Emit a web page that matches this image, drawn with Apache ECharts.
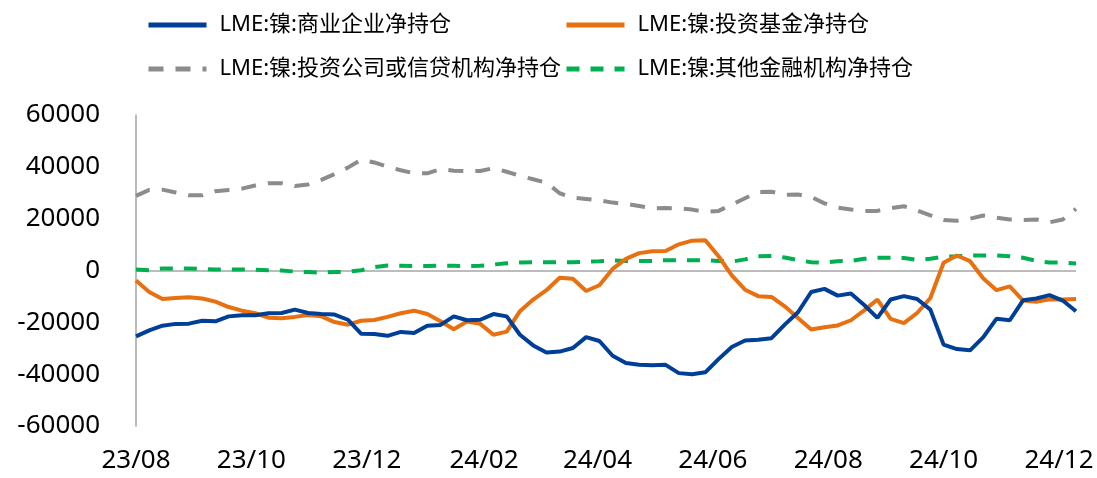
<!DOCTYPE html>
<html>
<head>
<meta charset="utf-8">
<script src="https://cdn.jsdelivr.net/npm/echarts@6/dist/echarts.min.js"></script>
<style>
html,body{margin:0;padding:0;background:#fff;}
#chart{width:1097px;height:478px;}
</style>
</head>
<body>
<div id="chart"></div>
<script>
// weekly observations: first date and count
const startDate = '2023-08-01';
const weekCount = 72;
const tickLabels = ['23/08','23/10','23/12','24/02','24/04','24/06','24/08','24/10','24/12'];
const seriesNames = ['LME:镍:商业企业净持仓','LME:镍:投资基金净持仓','LME:镍:投资公司或信贷机构净持仓','LME:镍:其他金融机构净持仓'];

const commercial = [-25400,-23100,-21300,-20600,-20500,-19400,-19600,-17700,-17300,-17300,-16500,-16400,-15100,-16400,-16800,-17000,-19000,-24400,-24500,-25200,-23700,-24100,-21300,-21000,-17700,
  -19200,-19000,-16800,-17700,-24800,-28900,-31600,-31300,-29900,-25700,-27200,-32900,-35700,-36400,-36600,-36400,-39600,-40000,-39300,-34200,-29500,-27000,-26700,-26100,
  -20900,-16100,-8300,-7100,-9700,-8900,-13300,-18300,-11200,-9900,-11000,-15100,-28600,-30300,-30800,-25700,-18600,-19200,-11500,-10800,-9500,-11600,-15700];
const investFunds = [-3900,-8300,-11000,-10600,-10300,-10800,-12000,-14100,-15500,-16500,-18200,-18400,-17900,-17200,-17700,-19900,-20900,-19400,-19100,-17900,-16500,-15500,-16800,-19600,-22700,
  -19700,-20600,-24800,-23600,-15700,-11200,-7600,-2800,-3200,-7900,-5700,600,4500,6700,7400,7500,10100,11500,11700,5500,-1900,-7400,-9900,-10200,
  -13800,-18300,-22800,-21900,-21200,-19200,-15400,-11200,-18700,-20300,-16400,-10600,3000,5800,3600,-3100,-7600,-6100,-11600,-12100,-11100,-11200,-11000];
const investFirms = [28800,31100,31200,30100,29000,29000,30600,31100,31600,32800,33700,33700,32600,33200,35000,37200,39700,42700,41700,40000,38700,37500,37500,39100,38500,
  38300,38400,39500,38100,36500,35200,33900,29800,28100,27600,27100,26200,25700,24900,24000,24100,24000,23500,22600,23000,25400,27900,30300,30400,
  29200,29300,28400,25900,24300,23500,23000,23000,24000,24800,23200,21300,19500,19200,20000,21200,20400,19700,19500,19700,18600,19700,23800];
const otherFinancial = [400,100,800,800,800,600,400,400,400,300,100,0,-400,-600,-800,-600,-500,100,1300,1900,1800,1700,1700,1900,1800,
  1700,1800,2300,2800,3100,3200,3200,3200,3200,3400,3600,3900,3700,3700,3700,4000,4000,4000,3900,3700,3400,4300,5500,5600,
  5000,4000,3200,3000,3600,3700,4500,4900,4900,4800,4100,4500,5300,5500,5800,5800,5800,5500,4900,3700,3100,3000,2700];

function parseDay(s){ const p = s.split('-').map(Number); return new Date(p[0], p[1]-1, p[2]).getTime(); }
const DAY = 86400000;
const t0 = parseDay(startDate);
const dates = [];
for (let i = 0; i < weekCount; i++) dates.push(t0 + i * 7 * DAY);
const tickValues = tickLabels.map(s => { const p = s.split('/').map(Number); return new Date(2000 + p[0], p[1]-1, 1).getTime(); });
function pair(arr){ return arr.map((v,i) => [dates[i], v]); }
function fmt(v){
  let best = 0, bd = Infinity;
  tickValues.forEach((t,i) => { const d = Math.abs(t - v); if (d < bd) { bd = d; best = i; } });
  return bd < 3 * DAY ? tickLabels[best] : '';
}

const FONT = '"Noto Sans", "Noto Sans CJK SC", sans-serif';
const chart = echarts.init(document.getElementById('chart'), null, {renderer:'canvas'});
const legendText = {fontFamily: FONT, fontSize: 22, color: '#000', padding: [0,0,0,8]};
const legendCommon = {orient: 'vertical', top: 9, itemWidth: 58, itemHeight: 14, itemGap: 22, textStyle: legendText,
  itemStyle: {opacity: 0}, lineStyle: {width: 5}};
chart.setOption({
  animation: false,
  backgroundColor: '#fff',
  legend: [
    Object.assign({data: [seriesNames[0], seriesNames[2]], left: 141}, legendCommon),
    Object.assign({data: [seriesNames[1], seriesNames[3]], left: 559}, legendCommon)
  ],
  grid: {left: 136, right: 21, top: 115, bottom: 52},
  xAxis: {
    type: 'value', min: dates[0], max: dates[dates.length-1],
    axisLine: {show: false}, axisTick: {show: false}, splitLine: {show: false},
    axisLabel: {customValues: tickValues, formatter: fmt, fontFamily: FONT, fontSize: 26, color: '#000', margin: 22, hideOverlap: false}
  },
  yAxis: {
    type: 'value', min: -60000, max: 60000, interval: 20000,
    axisLine: {show: true, lineStyle: {color: '#A6A6A6', width: 1.5}},
    axisTick: {show: false}, splitLine: {show: false},
    axisLabel: {fontFamily: FONT, fontSize: 26, color: '#000', margin: 36, formatter: v => String(v)}
  },
  series: [
    {name: seriesNames[0], type: 'line', data: pair(commercial), symbol: 'none', z: 4,
     lineStyle: {color: '#003F98', width: 4}, itemStyle: {color: '#003F98'},
     markLine: {silent: true, symbol: 'none', label: {show: false}, z: 1,
       lineStyle: {color: '#A6A6A6', width: 1.5, type: 'solid'}, data: [{yAxis: 0}]}},
    {name: seriesNames[1], type: 'line', data: pair(investFunds), symbol: 'none', z: 3,
     lineStyle: {color: '#E8700F', width: 4}, itemStyle: {color: '#E8700F'}},
    {name: seriesNames[2], type: 'line', data: pair(investFirms), symbol: 'none', z: 2,
     lineStyle: {color: '#8C8C8C', width: 4, type: [15, 12]}, itemStyle: {color: '#8C8C8C'}},
    {name: seriesNames[3], type: 'line', data: pair(otherFinancial), symbol: 'none', z: 2,
     lineStyle: {color: '#00B050', width: 4, type: [13, 11]}, itemStyle: {color: '#00B050'}}
  ]
});
</script>
</body>
</html>
